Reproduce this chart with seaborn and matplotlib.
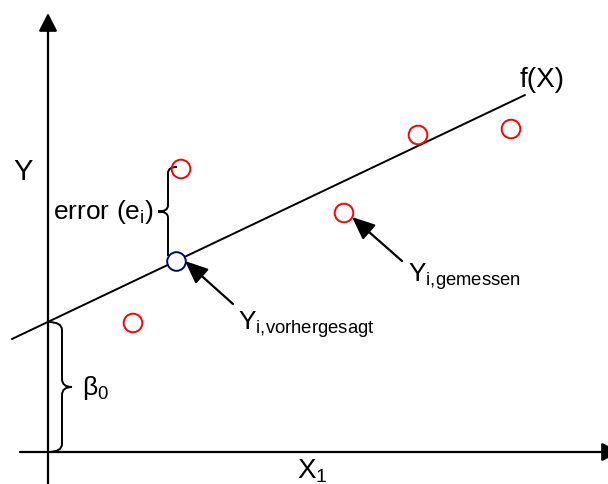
import numpy as np
import matplotlib
matplotlib.use('Agg')
import matplotlib.pyplot as plt
from matplotlib.path import Path
from matplotlib.patches import PathPatch
import seaborn as sns

# Data (schematic units, origin at the axes crossing)
meas_x = [133, 85, 296, 370, 463]
meas_y = [283, 129, 239, 317, 323]
pred_x = [128]
pred_y = [191]
line_x = [-36, 477]
line_y = [113, 357]
beta0 = 130

sns.set_style('white')
plt.rcParams['font.family'] = ['Liberation Sans', 'DejaVu Sans']
plt.rcParams['text.color'] = 'black'
plt.rcParams['mathtext.fontset'] = 'custom'
plt.rcParams['mathtext.rm'] = 'Liberation Sans'
plt.rcParams['mathtext.default'] = 'regular'

fig = plt.figure(figsize=(6.08, 4.85), dpi=100)
ax = fig.add_axes([0, 0, 1, 1])
ax.set_xlim(-48, 560)
ax.set_ylim(-32, 453)
ax.axis('off')


def brace(ax, xs, xt, y0, y1, xe0, xe1, r=7):
    # vertical curly brace from y0 to y1, spine at xs, tip at xt
    ym = (y0 + y1) / 2
    verts = [(xe1, y1), (xs, y1), (xs, y1 - r),
             (xs, ym + r), (xs, ym), (xt, ym),
             (xs, ym), (xs, ym - r),
             (xs, y0 + r), (xs, y0), (xe0, y0)]
    codes = [Path.MOVETO, Path.CURVE3, Path.CURVE3,
             Path.LINETO, Path.CURVE3, Path.CURVE3,
             Path.CURVE3, Path.CURVE3,
             Path.LINETO, Path.CURVE3, Path.CURVE3]
    ax.add_patch(PathPatch(Path(verts, codes), fc='none', ec='black', lw=1.4))


# axes with arrow heads
axis_arrow = dict(arrowstyle='-|>,head_length=0.55,head_width=0.28', mutation_scale=20,
                  color='black', lw=1.6, shrinkA=0, shrinkB=0)
ax.annotate('', xy=(0, 439), xytext=(0, -35), arrowprops=axis_arrow,
            annotation_clip=False)
ax.annotate('', xy=(572, 0), xytext=(-28, 0), arrowprops=axis_arrow,
            annotation_clip=False)

# regression line and points
sns.lineplot(x=line_x, y=line_y, color='black', lw=1.4, ax=ax)
sns.scatterplot(x=meas_x, y=meas_y, s=180, facecolors='none', edgecolor='#ff0000',
                linewidth=1.4, ax=ax, zorder=3)
sns.scatterplot(x=pred_x, y=pred_y, s=180, facecolors='white', edgecolor='#000080',
                linewidth=1.4, ax=ax, zorder=3)

# braces
brace(ax, 14, 24, 0, beta0, 0, 0, r=8)
brace(ax, 120, 110, pred_y[0] + 5, meas_y[0] + 2, 120, 129, r=6)

# pointer arrows
arrow = dict(arrowstyle='-|>,head_length=0.7,head_width=0.3', mutation_scale=20,
             color='black', lw=1.6, shrinkA=0, shrinkB=0)
ax.annotate('', xy=(137, 191), xytext=(185, 148), arrowprops=arrow)
ax.annotate('', xy=(304, 235), xytext=(354, 191), arrowprops=arrow)

# labels
fs = 19
ax.text(-35, 281, 'Y', fontsize=21, va='center', ha='left')
ax.text(249, -5, 'X$_1$', fontsize=20, va='top', ha='left')
ax.text(472, 366, 'f(X)', fontsize=20, va='baseline', ha='left')
ax.text(106, 241, 'error (e$_i$)', fontsize=fs, va='center', ha='right')
ax.text(34, 65, 'β$_0$', fontsize=fs, va='center', ha='left')
ax.text(190, 123, 'Y$_{i{,}vorhergesagt}$', fontsize=fs, va='baseline', ha='left')
ax.text(360, 171, 'Y$_{i{,}gemessen}$', fontsize=fs, va='baseline', ha='left')

fig.savefig('out.png', dpi=100)
